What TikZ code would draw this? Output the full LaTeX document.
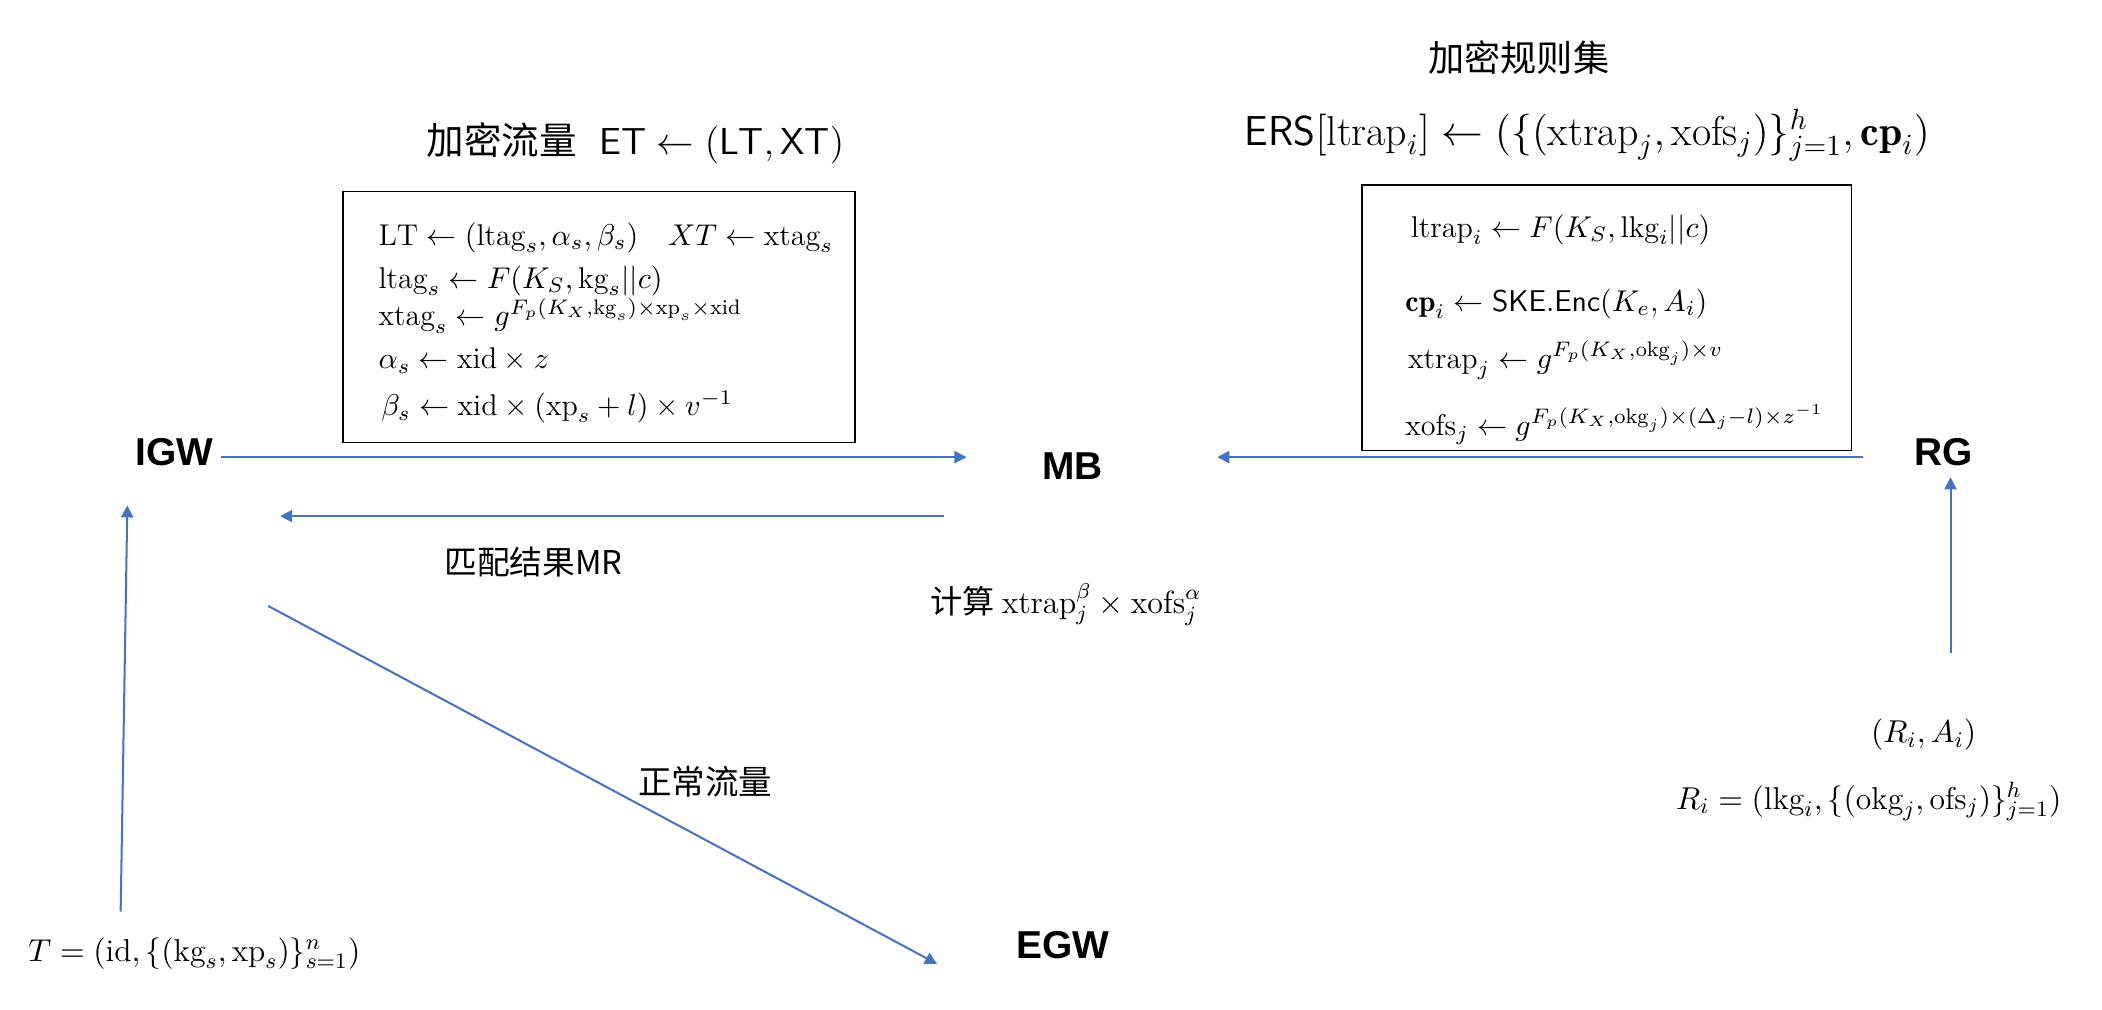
\RequirePackage{fix-cm}
\documentclass[tikz,border=0pt]{standalone}
\usepackage{fontspec}
\newfontfamily\cjk{Noto Sans CJK SC}
\newfontfamily\lab{Liberation Sans}
\usetikzlibrary{arrows.meta,calc}
\definecolor{flowblue}{HTML}{4472C4}

\begin{document}
\begin{tikzpicture}[
  x=0.5pt, y=-0.5pt,
  ent/.style={inner sep=0pt, font=\lab\bfseries\fontsize{14.5}{17}\selectfont},
  hd/.style={inner sep=0pt, font=\cjk\fontsize{14}{17}\selectfont},
  txt/.style={inner sep=0pt, font=\cjk\fontsize{12.2}{15}\selectfont},
  eq/.style={inner sep=0pt, font=\fontsize{11.8}{14}\selectfont},
  ln/.style={inner sep=0pt, anchor=base west, font=\fontsize{11.2}{13}\selectfont},
  box/.style={draw, line width=0.6pt, inner sep=0pt},
  flow/.style={draw=flowblue, line width=0.75pt, -{Triangle[length=4.5pt,width=4.5pt]}}
]
\useasboundingbox (0,0) rectangle (1568,753);

\node[ent] (igw) at (130,337) {IGW};
\node[ent] (mb)  at (800,348) {MB};
\node[ent] (rg)  at (1450,337) {RG};
\node[ent] (egw) at (793,705) {EGW};

% encrypted traffic
\node[hd] (ethd) at (474,107) {加密流量\hspace{0.6em}$\mathsf{ET}\leftarrow(\mathsf{LT},\mathsf{XT})$};
\node[box, minimum width=191pt, minimum height=93.5pt] (etbox) at (447,236.5) {};
\node[ln] (lt) at (282,183) {$\mathrm{LT}\leftarrow(\mathrm{ltag}_s,\alpha_s,\beta_s)\quad XT\leftarrow\mathrm{xtag}_s$};
\node[ln] (ltag) at (282,215) {$\mathrm{ltag}_s\leftarrow F(K_S,\mathrm{kg}_s||c)$};
\node[ln] (xtag) at (282,243) {$\mathrm{xtag}_s\leftarrow g^{F_p(K_X,\mathrm{kg}_s)\times\mathrm{xp}_s\times\mathrm{xid}}$};
\node[ln] (alph) at (282,275) {$\alpha_s\leftarrow\mathrm{xid}\times z$};
\node[ln] (bet)  at (284,310) {$\beta_s\leftarrow\mathrm{xid}\times(\mathrm{xp}_s+l)\times v^{-1}$};

% encrypted rule set
\node[hd, font=\cjk\fontsize{13.5}{16}\selectfont] (rshd) at (1133,43) {加密规则集};
\node[hd, font=\cjk\fontsize{15.6}{18}\selectfont] (ers) at (1184,101) {$\mathsf{ERS}[\mathrm{ltrap}_i]\leftarrow(\{(\mathrm{xtrap}_j,\mathrm{xofs}_j)\}_{j=1}^{h},\mathbf{cp}_i)$};
\node[box, minimum width=182.5pt, minimum height=99pt] (ersbox) at (1198.5,237) {};
\node[ln] (ltrap) at (1052,177) {$\mathrm{ltrap}_i\leftarrow F(K_S,\mathrm{lkg}_i||c)$};
\node[ln] (cp)    at (1048,232) {$\mathbf{cp}_i\leftarrow\mathsf{SKE.Enc}(K_e,A_i)$};
\node[ln] (xtrap) at (1050,275) {$\mathrm{xtrap}_j\leftarrow g^{F_p(K_X,\mathrm{okg}_j)\times v}$};
\node[ln] (xofs)  at (1048,325) {$\mathrm{xofs}_j\leftarrow g^{F_p(K_X,\mathrm{okg}_j)\times(\Delta_j-l)\times z^{-1}}$};

\node[txt] (mr)  at (398,419) {匹配结果MR};
\node[txt, font=\cjk\fontsize{12.5}{15}\selectfont] (nt) at (526,583) {正常流量};
\node[txt, font=\cjk\fontsize{12}{14}\selectfont] (cmp) at (795,451) {计算 $\mathrm{xtrap}_j^{\beta}\times\mathrm{xofs}_j^{\alpha}$};
\node[eq] (ra)  at (1435,548) {$(R_i,A_i)$};
\node[eq] (ri)  at (1394,598) {$R_i=(\mathrm{lkg}_i,\{(\mathrm{okg}_j,\mathrm{ofs}_j)\}_{j=1}^{h})$};
\node[eq] (tin) at (145,711) {$T=(\mathrm{id},\{(\mathrm{kg}_s,\mathrm{xp}_s)\}_{s=1}^{n})$};

\draw[flow] ($(igw)+(35,4)$) -- ($(mb)+(-79,-7)$);
\draw[flow] ($(mb)+(-96,37)$) -- ($(igw)+(79,48)$);
\draw[flow] ($(rg)+(-60,4)$) -- ($(mb)+(108,-7)$);
\draw[flow] ($(tin)+(-55,-31)$) -- ($(igw)+(-35,40)$);
\draw[flow] ($(igw)+(70,115)$) -- ($(egw)+(-94,14)$);
\draw[flow] ($(ra)+(20,-61)$) -- ($(rg)+(5,19)$);
\end{tikzpicture}
\end{document}
